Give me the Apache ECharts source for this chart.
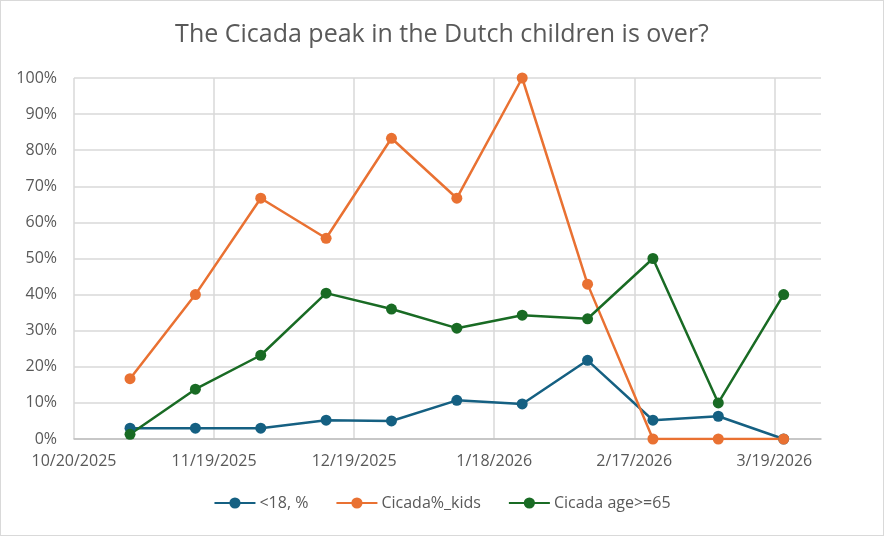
<!DOCTYPE html>
<html><head><meta charset="utf-8">
<script src="https://cdn.jsdelivr.net/npm/echarts@6/dist/echarts.min.js"></script>
<style>
html,body{margin:0;padding:0;background:#fff;}
#c{width:882px;height:534px;border:1px solid #d9d9d9;}
</style></head>
<body><div id="c"></div>
<script>
const title = "The Cicada peak in the Dutch children is over?";
const dates = ["2025-11-01","2025-11-15","2025-11-29","2025-12-13","2025-12-27","2026-01-10","2026-01-24","2026-02-07","2026-02-21","2026-03-07","2026-03-21"];
const under18 = [3.0, 3.0, 3.0, 5.2, 5.0, 10.7, 9.7, 21.8, 5.2, 6.3, 0];
const cicadaKids = [16.7, 40.0, 66.7, 55.6, 83.3, 66.7, 100, 42.9, 0, 0, 0];
const cicada65 = [1.3, 13.8, 23.2, 40.4, 36.0, 30.7, 34.3, 33.3, 50.0, 10.0, 40.0];
const seriesNames = ["<18, %", "Cicada%_kids", "Cicada age>=65"];
const axisStart = "2025-10-20";
const axisEnd = "2026-03-29";
const tickDays = 30;
const yTicks = [0,10,20,30,40,50,60,70,80,90,100];

const DAY = 86400000;
function ts(s){ const p=s.split("-").map(Number); return Date.UTC(p[0],p[1]-1,p[2]); }
const t0 = ts(axisStart);
function dayOff(s){ return Math.round((ts(s)-t0)/DAY); }
function fmt(d){ const t=new Date(t0+d*DAY); return (t.getUTCMonth()+1)+"/"+t.getUTCDate()+"/"+t.getUTCFullYear(); }
function pairs(vals){ return dates.map((d,i)=>[dayOff(d), vals[i]]); }

const colors = ["#156082","#E97132","#196B24"];
const FONT = "Open Sans";
const chart = echarts.init(document.getElementById('c'), null, {renderer:'canvas'});
const mk = (name, vals, color) => ({
  name, type:'line', data: pairs(vals), symbol:'circle', symbolSize:11,
  itemStyle:{color}, lineStyle:{color, width:2.5}, emphasis:{disabled:true}, animation:false
});
chart.setOption({
  animation:false,
  textStyle:{fontFamily:FONT},
  title:{text:title, left:'center', top:16, textStyle:{fontFamily:FONT, fontSize:25, fontWeight:'normal', color:'#595959'}},
  grid:{left:73, right:62, top:77, bottom:96},
  xAxis:{
    type:'value', min:0, max:dayOff(axisEnd), interval:tickDays,
    axisLine:{show:true, lineStyle:{color:'#bfbfbf', width:1.5}},
    axisTick:{show:false},
    axisLabel:{color:'#595959', fontSize:16, fontFamily:FONT, margin:14, showMaxLabel:false, formatter:(v)=>fmt(v)},
    splitLine:{show:true, showMaxLine:false, lineStyle:{color:'#d9d9d9', width:1.5}}
  },
  yAxis:{
    type:'value', min:yTicks[0], max:yTicks[yTicks.length-1], interval:10,
    axisLine:{show:false}, axisTick:{show:false},
    axisLabel:{color:'#595959', fontSize:16, fontFamily:FONT, margin:17, formatter:(v)=>v+'%'},
    splitLine:{show:true, lineStyle:{color:'#d9d9d9', width:1.5}}
  },
  legend:{
    bottom:19, left:'center', itemWidth:41, itemHeight:14, itemGap:27,
    textStyle:{color:'#595959', fontSize:16, fontFamily:FONT, padding:[0,0,0,-1]},
    data:seriesNames
  },
  series:[mk(seriesNames[0], under18, colors[0]), mk(seriesNames[1], cicadaKids, colors[1]), mk(seriesNames[2], cicada65, colors[2])]
});
</script></body></html>
